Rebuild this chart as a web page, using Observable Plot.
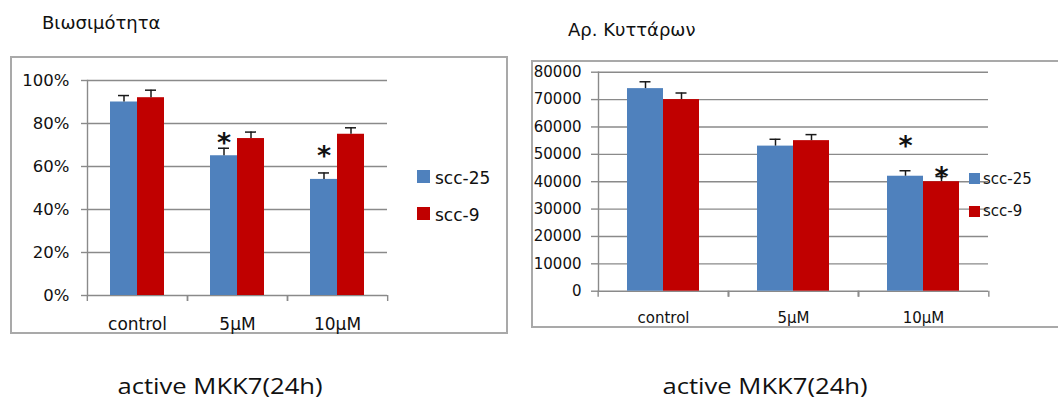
<!DOCTYPE html>
<html><head><meta charset="utf-8">
<script src="https://cdn.jsdelivr.net/npm/d3@7"></script>
<script src="https://cdn.jsdelivr.net/npm/@observablehq/plot@0.6"></script>
<style>
html,body{margin:0;padding:0;background:#fff;}
#page{position:relative;width:1058px;height:403px;overflow:hidden;font-family:"DejaVu Sans",sans-serif;color:#111;}
.abs{position:absolute;line-height:1;white-space:nowrap;}
.box{position:absolute;border:2px solid #a9a9a9;box-sizing:border-box;}
.sw{position:absolute;}
.cap{position:absolute;font-family:"Open Sans",sans-serif;font-size:21px;line-height:1;width:300px;text-align:center;transform:scaleX(1.22);color:#111;white-space:nowrap;}
.plot{position:absolute;top:0;}
</style></head><body><div id="page"></div>
<script>
// ---- data ----
const categories = ["control", "5µM", "10µM"];
const series = ["scc-25", "scc-9"];
const colors = ["#4f81bd", "#c00000"];

const viability25 = [0.90, 0.65, 0.54];
const viabilityErr25 = [0.03, 0.035, 0.03];
const viability9 = [0.92, 0.73, 0.75];
const viabilityErr9 = [0.035, 0.03, 0.03];
const viabilityTicks = [0, 0.2, 0.4, 0.6, 0.8, 1];
const viabilityStars = [
  {cat: "5µM", series: "scc-25", y: 0.74},
  {cat: "10µM", series: "scc-25", y: 0.68}
];

const cells25 = [74000, 53000, 42000];
const cellsErr25 = [2500, 2500, 2000];
const cells9 = [70000, 55000, 40000];
const cellsErr9 = [2400, 2200, 1900];
const cellTicks = [0, 10000, 20000, 30000, 40000, 50000, 60000, 70000, 80000];
const cellStars = [
  {cat: "10µM", series: "scc-25", y: 55500},
  {cat: "10µM", series: "scc-9", y: 44200}
];

const titles = ["Βιωσιμότητα", "Αρ. Κυττάρων"];
const caption = "active MKK7(24h)";

// ---- helpers ----
const grid = "#8a8a8a";
function rowsOf(v25, e25, v9, e9) {
  return categories.flatMap((c, i) => [
    {cat: c, series: series[0], value: v25[i], err: e25[i]},
    {cat: c, series: series[1], value: v9[i], err: e9[i]}
  ]);
}

function chart(o) {
  const bw = (o.width - o.ml - o.mr) / categories.length;
  return Plot.plot({
    width: o.width, height: o.height,
    marginTop: o.mt, marginRight: o.mr, marginBottom: o.mb, marginLeft: o.ml,
    style: {fontFamily: "DejaVu Sans, sans-serif", fontSize: o.fontSize + "px", color: "#111", background: "transparent", overflow: "visible"},
    fx: {domain: categories, padding: 0, label: null},
    x: {domain: series, paddingInner: 0, paddingOuter: o.outer, axis: null},
    y: {domain: o.domain},
    color: {domain: series, range: colors},
    marks: [
      Plot.ruleY(o.ticks, {stroke: grid, strokeWidth: 1.4}),
      Plot.frame({anchor: "left", facetAnchor: "left", stroke: grid, strokeWidth: 1.4}),
      Plot.axisY({ticks: o.ticks, tickFormat: o.tickFormat, tickSize: o.tickSize, tickPadding: o.tickPadding,
        stroke: grid, strokeWidth: 1.4, fill: "#111", fontSize: o.fontSize, label: null}),
      Plot.axisFx({anchor: "bottom", tickSize: 6, tickFormat: () => "", dx: -bw / 2, stroke: grid, strokeWidth: 1.4, label: null}),
      Plot.axisFx({anchor: "bottom", tickSize: 6, tickFormat: () => "", dx: bw / 2, stroke: grid, strokeWidth: 1.4, label: null}),
      Plot.axisFx({anchor: "bottom", tickSize: 0, tickPadding: o.xPad, fill: "#111", fontSize: o.xFont, label: null}),
      Plot.barY(o.rows, {fx: "cat", x: "series", y: "value", fill: "series"}),
      Plot.ruleX(o.rows, {fx: "cat", x: "series", y1: "value", y2: d => d.value + d.err, stroke: "#1a1a1a", strokeWidth: 1.5}),
      Plot.tickY(o.rows, {fx: "cat", x: "series", y: d => d.value + d.err, stroke: "#1a1a1a", strokeWidth: 1.5, insetLeft: o.capInset, insetRight: o.capInset}),
      Plot.text(o.stars, {fx: "cat", x: "series", y: "y", text: () => "*", fontSize: o.starSize, fontWeight: "bold", fill: "#111", dy: 7})
    ]
  });
}

const page = document.getElementById("page");
function add(html) { const d = document.createElement("div"); d.innerHTML = html; const el = d.firstElementChild; page.appendChild(el); return el; }

// frames
add(`<div class="box" style="left:10px;top:56px;width:498px;height:278px"></div>`);
add(`<div class="box" style="left:531px;top:60px;width:540px;height:268px"></div>`);

// left chart
const left = chart({
  rows: rowsOf(viability25, viabilityErr25, viability9, viabilityErr9),
  stars: viabilityStars, ticks: viabilityTicks, tickFormat: d3.format(".0%"), domain: [0, 1],
  width: 520, height: 340, mt: 80, mr: 133, mb: 45, ml: 86,
  fontSize: 16.5, xFont: 17, tickSize: 6, tickPadding: 12, xPad: 22, outer: 0.79, capInset: 8, starSize: 27
});
left.classList.add("plot"); left.style.left = "0px"; page.appendChild(left);

// right chart
const right = chart({
  rows: rowsOf(cells25, cellsErr25, cells9, cellsErr9),
  stars: cellStars, ticks: cellTicks, tickFormat: d3.format("d"), domain: [0, 80000],
  width: 538, height: 340, mt: 71.7, mr: 69, mb: 49.3, ml: 77,
  fontSize: 15, xFont: 15, tickSize: 7, tickPadding: 10, xPad: 21, outer: 0.766, capInset: 12.5, starSize: 27
});
right.classList.add("plot"); right.style.left = "520px"; page.appendChild(right);

// titles
add(`<div class="abs" style="left:42px;top:14px;font-size:18px">${titles[0]}</div>`);
add(`<div class="abs" style="left:568px;top:21px;font-size:18px">${titles[1]}</div>`);

// legends
[[417, 170, 13, 435, 169.6, 17], [417, 207, 13, 435, 206.6, 17]].forEach(([sx, sy, s, tx, ty, fs], i) => {
  add(`<div class="sw" style="left:${sx}px;top:${sy}px;width:${s}px;height:${s}px;background:${colors[i]}"></div>`);
  add(`<div class="abs" style="left:${tx}px;top:${ty}px;font-size:${fs}px">${series[i]}</div>`);
});
[[969, 172.5, 11, 983, 171.6, 15], [969, 206, 11, 983, 204, 15]].forEach(([sx, sy, s, tx, ty, fs], i) => {
  add(`<div class="sw" style="left:${sx}px;top:${sy}px;width:${s}px;height:${s}px;background:${colors[i]}"></div>`);
  add(`<div class="abs" style="left:${tx}px;top:${ty}px;font-size:${fs}px">${series[i]}</div>`);
});

// captions
add(`<div class="cap" style="left:${220 - 150}px;top:376px">${caption}</div>`);
add(`<div class="cap" style="left:${765 - 150}px;top:376px">${caption}</div>`);
</script>
</body></html>
